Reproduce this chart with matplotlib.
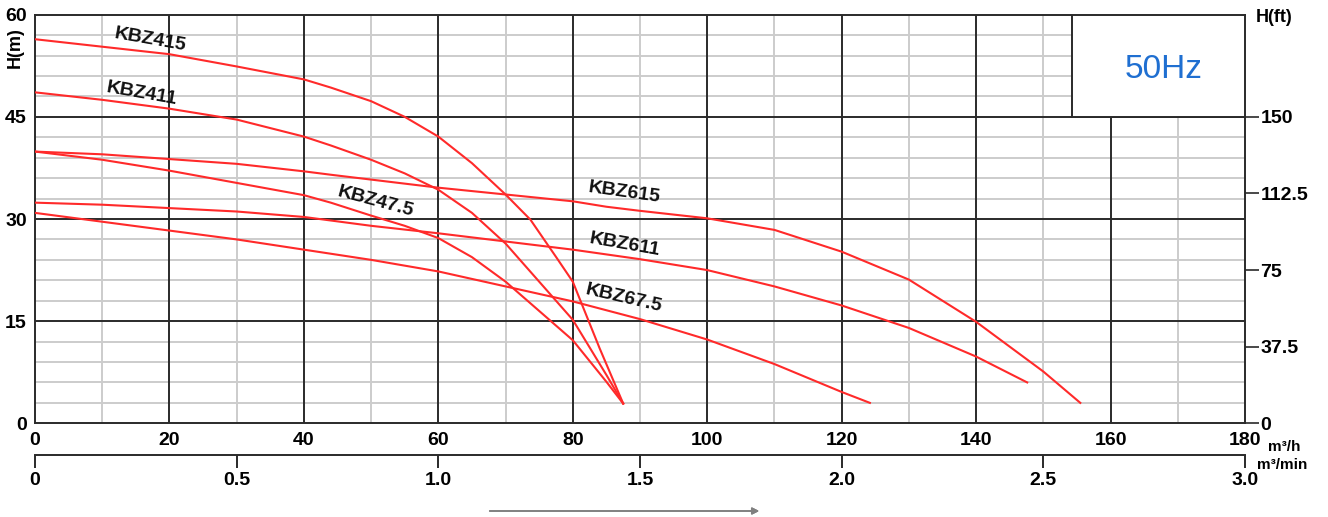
import numpy as np
import matplotlib.pyplot as plt
from matplotlib.patches import Rectangle

plt.rcParams["font.family"] = ["Liberation Sans", "DejaVu Sans"]

# pump curves: flow Q (m3/h) and head H (m)
q_415 = [0, 10, 20, 30, 40, 44, 50, 55, 60, 65, 70, 73.7, 77.6, 80, 84, 87.5]
h_415 = [56.4, 55.3, 54.2, 52.4, 50.5, 49.3, 47.3, 45.0, 42.1, 38.2, 33.6,
         29.9, 24.3, 20.8, 11.0, 2.9]
q_411 = [0, 10, 20, 30, 40, 44, 50, 55, 60, 65, 70, 75, 80, 85, 87.5]
h_411 = [48.6, 47.5, 46.2, 44.6, 42.1, 40.8, 38.7, 36.7, 34.3, 30.9, 26.4,
         20.8, 15.2, 7.1, 2.9]
q_47 = [0, 10, 20, 30, 40, 44, 50, 55, 60, 65, 70, 75, 80, 85, 87.5]
h_47 = [39.9, 38.7, 37.1, 35.3, 33.5, 32.4, 30.5, 29.0, 27.2, 24.4, 20.8,
        16.5, 12.2, 6.1, 2.9]
q_615 = [0, 10, 20, 30, 40, 44, 60, 70, 80, 85, 90, 100, 110, 120, 130, 140,
         150, 155.5]
h_615 = [39.9, 39.5, 38.8, 38.1, 37.0, 36.5, 34.6, 33.6, 32.6, 31.8, 31.2,
         30.1, 28.4, 25.2, 21.1, 14.9, 7.6, 3.0]
q_611 = [0, 10, 20, 30, 40, 50, 60, 70, 80, 90, 100, 110, 120, 130, 140, 147.6]
h_611 = [32.4, 32.1, 31.6, 31.1, 30.3, 29.0, 27.9, 26.7, 25.5, 24.1, 22.5,
         20.1, 17.3, 14.0, 9.8, 6.0]
q_67 = [0, 10, 20, 30, 40, 50, 60, 70, 80, 90, 100, 110, 120, 124.2]
h_67 = [30.9, 29.6, 28.3, 27.0, 25.5, 24.0, 22.3, 20.1, 17.9, 15.3, 12.3, 8.7,
        4.6, 3.0]

curves = [
    ("KBZ415", q_415, h_415, 17.1, 56.3, -10),
    ("KBZ411", q_411, h_411, 15.9, 48.4, -10),
    ("KBZ47.5", q_47, h_47, 50.7, 32.5, -15),
    ("KBZ615", q_615, h_615, 87.7, 33.9, -8),
    ("KBZ611", q_611, h_611, 87.7, 26.2, -10),
    ("KBZ67.5", q_67, h_67, 87.6, 18.4, -13),
]

m_ticks = [0, 15, 30, 45, 60]
ft_ticks = [0, 37.5, 75, 112.5, 150]
ft_labels = ["0", "37.5", "75", "112.5", "150"]
q_ticks = [0, 20, 40, 60, 80, 100, 120, 140, 160, 180]
qmin_ticks = [0, 0.5, 1.0, 1.5, 2.0, 2.5, 3.0]

W, H = 1328, 517
fig = plt.figure(figsize=(W / 100, H / 100), dpi=100)
left, right, bottom, top = 35 / W, 1245 / W, 1 - 423.3 / H, 1 - 14.7 / H
ax = fig.add_axes([left, bottom, right - left, top - bottom])
ax.set_xlim(0, 180)
ax.set_ylim(0, 60)

# grid
for x in range(10, 180, 20):
    ax.axvline(x, color="#cccccc", lw=1.4, zorder=1)
for y in np.arange(3, 60, 3):
    if y % 15:
        ax.axhline(y, color="#cccccc", lw=1.4, zorder=1)
for x in q_ticks[1:-1]:
    ax.axvline(x, color="#2a2a2a", lw=1.4, zorder=2)
for y in m_ticks[1:-1]:
    ax.axhline(y, color="#2a2a2a", lw=1.4, zorder=2)
for s in ax.spines.values():
    s.set_color("#2a2a2a")
    s.set_linewidth(1.4)

# 50Hz box
ax.add_patch(Rectangle((154.3, 45), 180 - 154.3, 15, facecolor="white",
                       edgecolor="#2a2a2a", lw=1.4, zorder=3))
ax.text(167.9, 52.0, "50Hz", color="#1f6fd1", fontsize=24, ha="center",
        va="center", zorder=4)

for name, q, h, tx, ty, rot in curves:
    ax.plot(q, h, color="#ff2a2a", lw=1.5, zorder=5)
    ax.text(tx, ty, name, fontsize=14, fontweight="bold", color="#111111",
            rotation=rot, ha="center", va="center", zorder=6)

ax.set_xticks(q_ticks)
ax.set_xticklabels([str(v) for v in q_ticks], fontsize=14, fontweight="bold")
ax.set_yticks(m_ticks)
ax.set_yticklabels([str(v) for v in m_ticks], fontsize=14, fontweight="bold")
ax.tick_params(axis="both", length=0, pad=6)

# head in feet, 150 ft drawn at 45 m
ax_r = ax.twinx()
ax_r.set_ylim(0, 200)
ax_r.set_yticks(ft_ticks)
ax_r.set_yticklabels(ft_labels, fontsize=14, fontweight="bold")
ax_r.tick_params(axis="y", length=10, width=1.2, color="#2a2a2a", pad=1)
for s in ax_r.spines.values():
    s.set_visible(False)

fig.text(15 / W, 1 - 48 / H, "H(m)", rotation=90, fontsize=13,
         fontweight="bold", ha="center", va="center")
fig.text(1256 / W, 1 - 17 / H, "H(ft)", fontsize=13, fontweight="bold",
         ha="left", va="center")

# second flow axis in m3/min
ax2 = fig.add_axes([left, 1 - 455 / H, right - left, 0.001])
ax2.set_xlim(0, 3.0)
ax2.set_ylim(0, 1)
for k in ["top", "left", "right"]:
    ax2.spines[k].set_visible(False)
ax2.spines["bottom"].set_color("#2a2a2a")
ax2.spines["bottom"].set_linewidth(1.4)
ax2.set_yticks([])
ax2.set_xticks(qmin_ticks)
ax2.set_xticklabels([f"{v:g}" if v == 0 else f"{v:.1f}" for v in qmin_ticks],
                    fontsize=14, fontweight="bold")
ax2.tick_params(axis="x", direction="out", length=9, width=1.4,
                color="#2a2a2a", pad=3)
ax2.patch.set_alpha(0)

fig.text(1268 / W, 1 - 447 / H, "m³/h", fontsize=11, fontweight="bold",
         ha="left", va="center")
fig.text(1257 / W, 1 - 465 / H, "m³/min", fontsize=11, fontweight="bold",
         ha="left", va="center")

fig.add_artist(plt.annotate("", xy=(762 / W, 1 - 511 / H),
                            xytext=(487 / W, 1 - 511 / H),
                            xycoords="figure fraction",
                            arrowprops=dict(arrowstyle="-|>", color="#808080",
                                            lw=1.2)))

fig.savefig("out.png", dpi=100)
